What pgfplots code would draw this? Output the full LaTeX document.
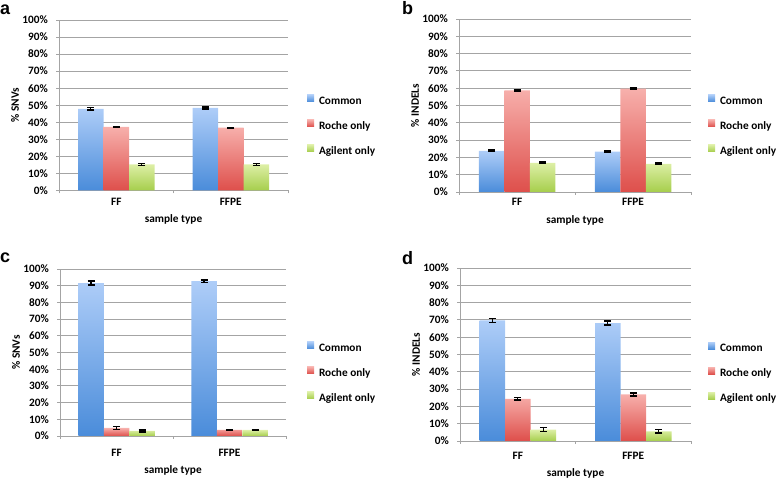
\documentclass[border=0pt]{standalone}
\usepackage{fontspec}
\setmainfont{Carlito}
\newfontfamily\letterfont{Liberation Sans}
\usepackage{pgfplots}
\usepackage{pgfplotstable}
\pgfplotsset{compat=1.18}

\definecolor{gridgray}{HTML}{A4A4A4}
\definecolor{blueTop}{HTML}{AECDF8}
\definecolor{blueBot}{HTML}{4A8CDA}
\definecolor{redTop}{HTML}{F7B0AC}
\definecolor{redBot}{HTML}{DE4F4B}
\definecolor{greenTop}{HTML}{DDEFA6}
\definecolor{greenBot}{HTML}{A6CE4C}

% x: 0 = FF, 1 = FFPE
\pgfplotstableread{
x common ecommon roche eroche agil eagil
0 47.9 0.6 37.3 0.3 15.3 0.5
1 48.4 0.5 36.8 0.3 15.3 0.5
}\dataA
\pgfplotstableread{
x common ecommon roche eroche agil eagil
0 23.8 0.4 58.7 0.4 16.9 0.4
1 23.3 0.4 59.8 0.4 16.3 0.4
}\dataB
\pgfplotstableread{
x common ecommon roche eroche agil eagil
0 91.6 1.1 4.8 0.8 3.0 0.5
1 92.7 0.8 3.7 0.2 3.6 0.4
}\dataC
\pgfplotstableread{
x common ecommon roche eroche agil eagil
0 69.7 1.2 24.3 0.7 6.6 1.2
1 68.2 1.2 26.9 0.8 5.6 0.9
}\dataD

\newcommand\txt{\fontsize{11.3bp}{13bp}\selectfont\bfseries}

\pgfplotsset{
  panel/.style={
    scale only axis,
    ybar=0pt, bar width=25.5bp,
    ymin=0, ymax=100, ytick={0,10,...,100},
    yticklabel={\pgfmathprintnumber{\tick}\%},
    /pgf/number format/assume math mode=true,
    xmin=-0.5, xmax=1.5,
    xtick={0,1}, xticklabels={FF,FFPE},
    minor xtick={-0.5,0.5,1.5},
    major x tick style={draw=none},
    tick align=outside,
    major tick length=3bp, minor tick length=3bp,
    tick style={draw=gridgray, line width=0.9bp},
    axis x line*=bottom, axis y line*=left,
    axis line style={draw=gridgray, line width=0.9bp, -},
    ymajorgrids, grid style={draw=gridgray, line width=0.9bp},
    tick label style={font=\txt, text=black},
    yticklabel style={anchor=east, inner sep=0pt, xshift=-8bp},
    every axis y label/.style={at={(rel axis cs:0,0.5)}, xshift=-44bp,
      rotate=90, anchor=center, font=\txt},
    legend image code/.code={\fill[##1, draw=none] (0bp,0bp) rectangle (7bp,7bp);},
    legend cell align=left,
    legend style={draw=none, fill=none, at={(rel axis cs:0,0)}, anchor=west,
      inner sep=0pt, outer sep=0pt, row sep=12.5bp, column sep=5bp, font=\txt,
      nodes={inner sep=0pt, text height=8bp, text depth=3bp}},
    error bars/y dir=both, error bars/y explicit,
    error bars/error bar style={black, line width=1.2bp},
    error bars/error mark options={black, rotate=90, mark size=3.5bp, line width=1.4bp},
  },
  tshift/.style 2 args={
    xticklabel style={anchor=center, yshift=#1},
    every axis x label/.style={at={(rel axis cs:0.5,0)}, yshift=#2,
      anchor=center, font=\txt},
  },
  lshift/.style 2 args={legend style={xshift=#1, yshift=#2}},
}

\newcommand\bars[1]{%
  \addplot[draw=none, top color=blueTop, bottom color=blueBot]
    table[x=x, y=common, y error=ecommon] {#1};
  \addplot[draw=none, top color=redTop, bottom color=redBot]
    table[x=x, y=roche, y error=eroche] {#1};
  \addplot[draw=none, top color=greenTop, bottom color=greenBot]
    table[x=x, y=agil, y error=eagil] {#1};
  \legend{Common, Roche only, Agilent only}
}

\begin{document}
\begin{tikzpicture}[x=1bp, y=1bp]
\useasboundingbox (0,0) rectangle (778,478);

\begin{axis}[panel, at={(59bp,287.5bp)}, anchor=south west,
    width=229bp, height=170.5bp, ylabel={\% SNVs}, xlabel={sample type},
    tshift={-8bp}{-28.5bp}, lshift={248bp}{64.5bp}]
  \bars{\dataA}
\end{axis}

\begin{axis}[panel, at={(459bp,286bp)}, anchor=south west,
    width=232bp, height=173bp, ylabel={\% INDELs}, xlabel={sample type},
    tshift={-6.5bp}{-28.5bp}, lshift={249bp}{66bp}]
  \bars{\dataB}
\end{axis}

\begin{axis}[panel, at={(60bp,42bp)}, anchor=south west,
    width=226bp, height=167bp, ylabel={\% SNVs}, xlabel={sample type},
    tshift={-13.5bp}{-34.5bp}, lshift={247bp}{63bp}]
  \bars{\dataC}
\end{axis}

\begin{axis}[panel, at={(460bp,37bp)}, anchor=south west,
    width=231bp, height=173bp, ylabel={\% INDELs}, xlabel={sample type},
    tshift={-11.5bp}{-32.5bp}, lshift={248bp}{67.5bp}]
  \bars{\dataD}
\end{axis}

\begin{scope}[every node/.style={anchor=base west, inner sep=0pt,
    font={\fontsize{18bp}{20bp}\letterfont\bfseries}}]
  \node at (0,463) {a};
  \node at (402,463) {b};
  \node at (0,215) {c};
  \node at (402,213) {d};
\end{scope}
\end{tikzpicture}
\end{document}
